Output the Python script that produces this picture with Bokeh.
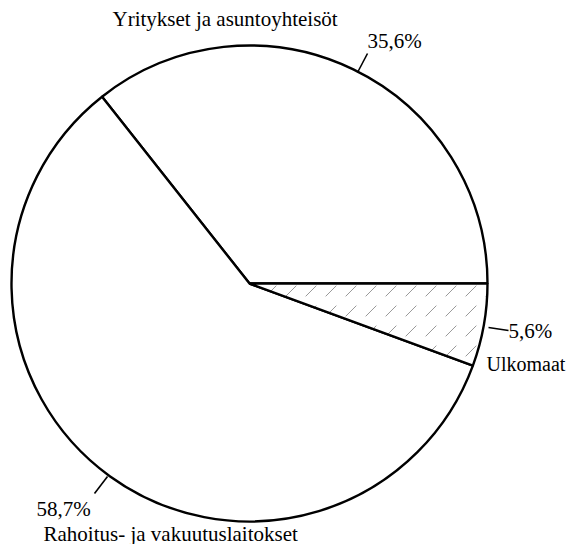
import numpy as np
from bokeh.plotting import figure
from bokeh.models import Range1d, ColumnDataSource
from bokeh.core.properties import value
from bokeh.embed import file_html
from bokeh.resources import INLINE

categories = ["Yritykset ja asuntoyhteisöt", "Rahoitus- ja vakuutuslaitokset", "Ulkomaat"]
shares = [35.6, 58.7, 5.6]
pct_labels = ["35,6%", "58,7%", "5,6%"]

W, H = 566, 544
p = figure(width=W, height=H, output_backend="svg", toolbar_location=None,
           x_range=Range1d(0, W), y_range=Range1d(0, H),
           min_border=0, background_fill_color="white", border_fill_color="white")
p.axis.visible = False
p.grid.visible = False
p.outline_line_color = None

def Y(py):
    return H - py

cx, cy, r = 249, Y(283), 238
total = sum(shares)
ends = np.cumsum(shares) / total * 2 * np.pi
starts = np.concatenate([[0], ends[:-1]])
hatch = [" ", " ", ","]
src = ColumnDataSource(dict(start=list(starts), end=list(ends), hatch=hatch))
p.wedge(x=cx, y=cy, radius=r, start_angle="start", end_angle="end", source=src,
        fill_color="white", line_color="black", line_width=2.4,
        hatch_pattern="hatch", hatch_color="black", hatch_alpha=0.4,
        hatch_scale=20, hatch_weight=1.0)

font = value("Liberation Serif")
fs = "21px"
# category labels
p.text(x=[112, 43], y=[Y(18), Y(533)], text=[categories[0], categories[1]],
       text_font=font, text_font_size=fs, text_color="black", text_baseline="middle", text_align="left")
p.text(x=[486], y=[Y(363)], text=[categories[2]],
       text_font=font, text_font_size="20px", text_color="black", text_baseline="middle", text_align="left")
# percentage labels
p.text(x=[367, 36, 508], y=[Y(40), Y(508), Y(330)], text=pct_labels,
       text_font=font, text_font_size=fs, text_color="black", text_baseline="middle", text_align="left")
# leader lines
p.segment(x0=[357, 107, 488], y0=[Y(72), Y(476), Y(327)],
          x1=[367, 94, 508], y1=[Y(53), Y(493), Y(330)],
          line_color="black", line_width=1.6)

open("out.html", "w").write(file_html(p, INLINE))
